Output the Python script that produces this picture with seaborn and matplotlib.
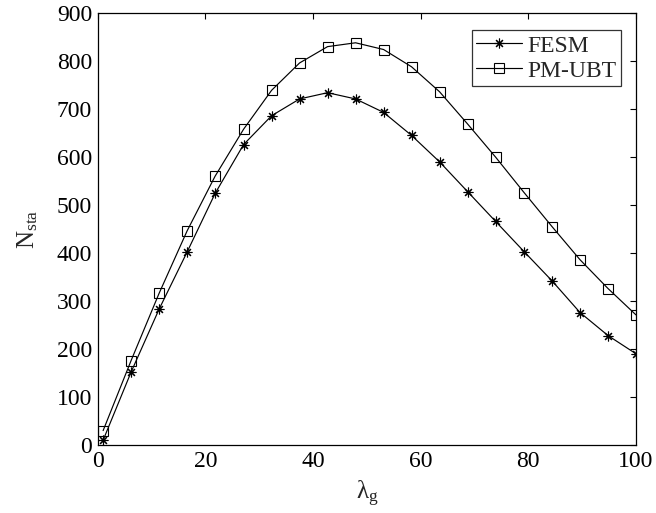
import matplotlib
matplotlib.use('Agg')
import matplotlib.pyplot as plt
import seaborn as sns
import numpy as np
import pandas as pd

# lambda_g sample points (20 points between 1 and 100)
lam = [1, 6.2, 11.4, 16.6, 21.8, 27.1, 32.3, 37.5, 42.7, 47.9,
       53.1, 58.3, 63.5, 68.7, 73.9, 79.2, 84.4, 89.6, 94.8, 100]
fesm = [10, 152, 283, 402, 524, 626, 686, 721, 734, 721,
        693, 645, 590, 528, 466, 403, 342, 276, 228, 190]
pmubt = [30, 176, 316, 446, 560, 658, 739, 796, 830, 838,
         824, 788, 736, 669, 600, 526, 455, 386, 326, 271]
methods = ['FESM', 'PM-UBT']
markers = [(8, 2, 0), 's']

sns.set_style('white')
plt.rcParams['font.family'] = ['Liberation Serif', 'DejaVu Serif']
plt.rcParams['mathtext.fontset'] = 'custom'
plt.rcParams['mathtext.rm'] = 'Liberation Serif'
plt.rcParams['mathtext.it'] = 'Liberation Serif'

fig = plt.figure(figsize=(6.56, 5.13), dpi=100)
ax = fig.add_axes([0.149, 0.1326, 0.8205, 0.842])

for name, vals, mk in zip(methods, [fesm, pmubt], markers):
    sns.lineplot(x=lam, y=vals, marker=mk, color='k', linewidth=0.85,
                 markersize=7, mec='k', mfc='none', mew=0.8,
                 label=name, legend=False, ax=ax)

ax.set_xlim(0, 100)
ax.set_ylim(0, 900)
ax.set_xticks(np.arange(0, 101, 20))
ax.set_yticks(np.arange(0, 901, 100))
ax.tick_params(direction='in', top=True, right=True, length=4, width=0.8,
               labelsize=17, colors='k', pad=4)
for s in ax.spines.values():
    s.set_visible(True)
    s.set_color('k')
    s.set_linewidth(0.9)

ax.set_xlabel('λ$_\\mathrm{g}$', fontsize=18, labelpad=5)
ax.set_ylabel('N$_\\mathrm{sta}$', fontsize=18, labelpad=12)

leg = ax.legend(ax.lines[:2], methods, loc='upper right',
                bbox_to_anchor=(0.972, 0.96), borderaxespad=0, fontsize=17,
                frameon=True, fancybox=False, edgecolor='k', handlelength=1.95,
                handletextpad=0.2, borderpad=0.2, labelspacing=0.15)
leg.get_frame().set_linewidth(0.9)

fig.savefig('out.png', dpi=100)
